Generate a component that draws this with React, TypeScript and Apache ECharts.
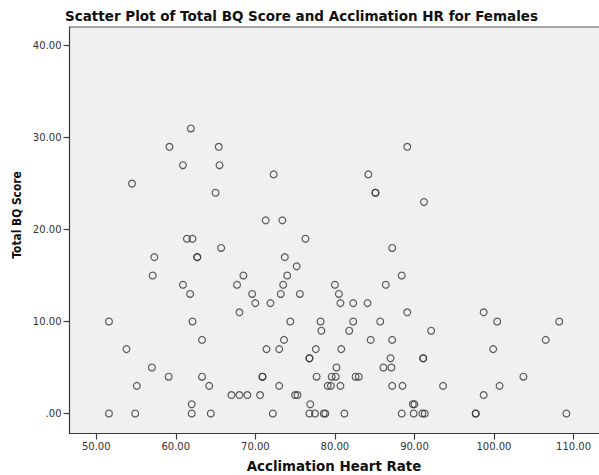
import React, { useEffect, useRef } from "react";
import * as echarts from "echarts";

// Acclimation heart rate (x) and total BQ score (y) for each female participant
const acclimationHR: number[] = [
  61.9,
  59.2, 65.4, 89.1,
  60.9, 65.5,
  72.3, 84.2,
  54.5,
  65.0, 85.1, 85.1,
  91.2,
  71.3, 73.4,
  61.4, 62.1, 76.3,
  65.7, 87.2,
  57.3, 62.7, 62.7, 73.7,
  75.2,
  57.1, 68.5, 74.0, 88.4,
  60.9, 67.7, 73.5, 80.0, 86.4,
  61.8, 69.6, 73.2, 75.6, 80.5,
  70.0, 71.9, 80.7, 82.3, 84.1,
  68.0, 89.1, 98.7,
  51.6, 62.1, 74.4, 78.2, 82.3, 85.7, 100.4, 108.2,
  78.3, 81.8, 92.1,
  63.3, 73.6, 84.5, 87.2, 106.5,
  53.8, 71.4, 73.0, 77.6, 80.8, 99.9,
  76.8, 76.8, 87.0, 91.1, 91.1,
  57.0, 80.2, 86.1, 87.1,
  59.1, 63.3, 70.9, 70.9, 77.7, 79.6, 80.1, 82.6, 83.0, 103.7,
  55.1, 64.2, 73.0, 79.1, 79.5, 80.7, 87.2, 88.5, 93.6, 100.7,
  67.0, 68.0, 69.0, 70.6, 75.0, 75.3, 98.7,
  62.0, 76.9, 89.8, 90.0,
  51.6, 54.9, 62.0, 64.4, 72.2, 76.8, 77.5, 78.6, 78.8, 81.2, 88.4, 89.9, 91.0, 91.3, 97.7, 97.7, 109.1,
];

const totalBQ: number[] = [
  31,
  29, 29, 29,
  27, 27,
  26, 26,
  25,
  24, 24, 24,
  23,
  21, 21,
  19, 19, 19,
  18, 18,
  17, 17, 17, 17,
  16,
  15, 15, 15, 15,
  14, 14, 14, 14, 14,
  13, 13, 13, 13, 13,
  12, 12, 12, 12, 12,
  11, 11, 11,
  10, 10, 10, 10, 10, 10, 10, 10,
  9, 9, 9,
  8, 8, 8, 8, 8,
  7, 7, 7, 7, 7, 7,
  6, 6, 6, 6, 6,
  5, 5, 5, 5,
  4, 4, 4, 4, 4, 4, 4, 4, 4, 4,
  3, 3, 3, 3, 3, 3, 3, 3, 3, 3,
  2, 2, 2, 2, 2, 2, 2,
  1, 1, 1, 1,
  0, 0, 0, 0, 0, 0, 0, 0, 0, 0, 0, 0, 0, 0, 0, 0, 0,
];

const xTicks: number[] = [50, 60, 70, 80, 90, 100, 110];
const yTicks: number[] = [0, 10, 20, 30, 40];

const chartTitle = "Scatter Plot of Total BQ Score and Acclimation HR for Females";
const xTitle = "Acclimation Heart Rate";
const yTitle = "Total BQ Score";

const FONT = "DejaVu Sans";
const AXIS_COLOR = "#3a3a3a";

const fmt = (v: number) => (v === 0 ? ".00" : v.toFixed(2));

// plot frame, in pixels
const PLOT_LEFT = 69.5;
const PLOT_TOP = 27;
const PLOT_BOTTOM_GAP = 41.5;
const W = 599;
const H = 475;

export default function App() {
  const ref = useRef<HTMLDivElement>(null);

  useEffect(() => {
    if (!ref.current) return;
    const chart = echarts.init(ref.current, undefined, { renderer: "svg" });
    const points = acclimationHR.map((x, i) => [x, totalBQ[i]]);

    chart.setOption({
      animation: false,
      backgroundColor: "#ffffff",
      grid: {
        left: PLOT_LEFT,
        top: PLOT_TOP,
        right: 0,
        bottom: PLOT_BOTTOM_GAP,
        show: false,
      },
      xAxis: {
        type: "value",
        min: 46.64,
        max: 113.2,
        axisLine: { show: true, onZero: false, lineStyle: { color: AXIS_COLOR, width: 1.2 } },
        axisTick: {
          show: true,
          length: 6,
          customValues: xTicks,
          lineStyle: { color: AXIS_COLOR, width: 1.2 },
        },
        axisLabel: {
          customValues: xTicks,
          formatter: fmt,
          margin: 8,
          color: "#333333",
          fontFamily: FONT,
          fontSize: 10,
        },
        splitLine: { show: false },
      },
      yAxis: {
        type: "value",
        min: -2.18,
        max: 42.03,
        axisLine: { show: true, onZero: false, lineStyle: { color: AXIS_COLOR, width: 1.2 } },
        axisTick: {
          show: true,
          length: 6,
          customValues: yTicks,
          lineStyle: { color: AXIS_COLOR, width: 1.2 },
        },
        axisLabel: {
          customValues: yTicks,
          formatter: fmt,
          margin: 8,
          color: "#333333",
          fontFamily: FONT,
          fontSize: 10,
        },
        splitLine: { show: false },
      },
      series: [
        {
          type: "scatter",
          data: points,
          symbol: "circle",
          symbolSize: 6.8,
          itemStyle: {
            color: "rgba(0,0,0,0)",
            borderColor: "#333333",
            borderWidth: 1.2,
          },
          emphasis: { disabled: true },
        },
      ],
      graphic: [
        {
          // plot background, open on the right
          type: "rect",
          z: -10,
          shape: { x: PLOT_LEFT, y: PLOT_TOP, width: W - PLOT_LEFT + 4, height: H - PLOT_BOTTOM_GAP - PLOT_TOP },
          style: { fill: "#f0f0f0", stroke: "none" },
          silent: true,
        },
        {
          // top frame edge of the plot area
          type: "line",
          shape: { x1: PLOT_LEFT, y1: PLOT_TOP, x2: W + 4, y2: PLOT_TOP },
          style: { stroke: "#8a8a8a", lineWidth: 1.5 },
          silent: true,
        },
        {
          type: "text",
          left: 65,
          top: 9,
          style: {
            text: chartTitle,
            font: `bold 13.5px "${FONT}"`,
            fill: "#111111",
          },
        },
        {
          type: "text",
          x: 334,
          y: 466,
          style: {
            text: xTitle,
            font: `bold 13.4px "${FONT}"`,
            fill: "#111111",
            align: "center",
            verticalAlign: "middle",
          },
        },
        {
          type: "text",
          x: 17,
          y: 215,
          rotation: Math.PI / 2,
          scaleX: 0.82,
          style: {
            text: yTitle,
            font: `bold 13px "${FONT}"`,
            fill: "#111111",
            align: "center",
            verticalAlign: "middle",
          },
        },
      ],
    });

    return () => chart.dispose();
  }, []);

  return (
    <div
      ref={ref}
      style={{ position: "absolute", left: 0, top: 0, width: W, height: H }}
    />
  );
}
